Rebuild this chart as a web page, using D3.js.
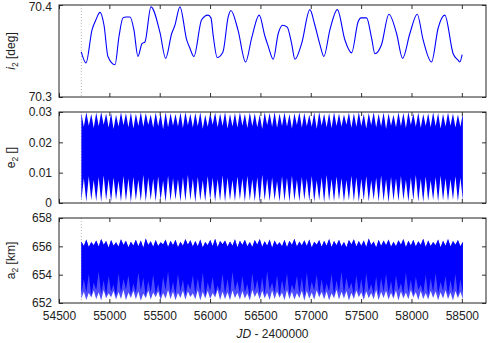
<!DOCTYPE html>
<html>
<head>
  <meta charset="utf-8">
  <title>i2, e2, a2 vs JD</title>
  <style>
    body { margin: 0; background: #fff; }
    text { font-family: "Liberation Sans", Arial, sans-serif; fill: #222; }
  </style>
</head>
<body>
  <script src="https://d3js.org/d3.v7.min.js"></script>
  <script type="text/javascript">

 // top panel: inclination i2 [deg] (JD - 2400000, value)
 var incT = [54721,54768,54828,54867,54907,54947,54986,55056,55096,55135,55165,55205,55244,55284,55324,55354,
             55413,55503,55559,55619,55651,55701,55768,55800,55840,55916,55979,56009,56032,56071,56128,56180,
             56207,56277,56353,56413,56488,56545,56578,56627,56677,56720,56766,56810,56843,56909,56991,57041,
             57091,57130,57190,57264,57339,57405,57471,57498,57554,57604,57637,57703,57776,57852,57912,57984,
             58057,58116,58199,58265,58331,58414,58463,58480,58503];
 var incV = [70.349,70.337,70.373,70.384,70.392,70.378,70.344,70.335,70.366,70.386,70.387,70.387,70.373,70.344,70.358,70.360,
             70.398,70.370,70.342,70.369,70.378,70.398,70.362,70.353,70.344,70.384,70.389,70.386,70.366,70.343,70.349,70.387,
             70.394,70.373,70.338,70.364,70.389,70.366,70.355,70.341,70.369,70.378,70.376,70.358,70.341,70.358,70.395,70.378,
             70.357,70.344,70.373,70.395,70.362,70.348,70.382,70.386,70.386,70.364,70.347,70.357,70.390,70.369,70.342,70.369,
             70.390,70.362,70.338,70.375,70.389,70.347,70.340,70.338,70.346];

 // middle + bottom panels: envelopes of the fast oscillation, sampled every half cycle
 var t0 = 54722, halfStep = 24.6;

 var ePeakHi = [0.0296,0.0299,0.0293,0.0298,0.0300,0.0295,0.0297,0.0291,0.0299,0.0296,
                0.0298,0.0294,0.0300,0.0297,0.0292,0.0298,0.0295,0.0299,0.0296,0.0293,
                0.0298,0.0300,0.0294,0.0297,0.0299,0.0291,0.0296,0.0298,0.0295,0.0300,
                0.0293,0.0297,0.0299,0.0294,0.0298,0.0296,0.0292,0.0299,0.0297,0.0300,
                0.0295,0.0298,0.0293,0.0296,0.0299,0.0297,0.0291,0.0298,0.0300,0.0294,
                0.0297,0.0299,0.0295,0.0292,0.0298,0.0296,0.0300,0.0293,0.0297,0.0299,
                0.0294,0.0298,0.0296,0.0291,0.0299,0.0297,0.0300,0.0295,0.0298,0.0293,
                0.0296,0.0299,0.0297,0.0294,0.0298,0.0295,0.0292,0.0296];
 var eGapHi  = [0.0251,0.0255,0.0247,0.0253,0.0258,0.0249,0.0244,0.0252,0.0256,0.0250,
                0.0246,0.0254,0.0251,0.0257,0.0248,0.0253,0.0243,0.0250,0.0255,0.0252,
                0.0247,0.0256,0.0249,0.0253,0.0245,0.0251,0.0258,0.0250,0.0254,0.0246,
                0.0252,0.0249,0.0255,0.0247,0.0253,0.0250,0.0244,0.0256,0.0251,0.0248,
                0.0254,0.0252,0.0246,0.0257,0.0249,0.0253,0.0251,0.0245,0.0255,0.0250,
                0.0247,0.0254,0.0252,0.0258,0.0248,0.0251,0.0253,0.0246,0.0256,0.0249,
                0.0252,0.0244,0.0255,0.0250,0.0253,0.0247,0.0257,0.0251,0.0248,0.0254,
                0.0250,0.0253,0.0246,0.0252,0.0255,0.0249,0.0251];
 var ePeakLo = [0.0008,0.0004,0.0010,0.0006,0.0003,0.0009,0.0005,0.0011,0.0004,0.0007,
                0.0002,0.0009,0.0006,0.0004,0.0010,0.0005,0.0008,0.0003,0.0007,0.0011,
                0.0004,0.0006,0.0009,0.0002,0.0008,0.0005,0.0010,0.0004,0.0007,0.0003,
                0.0009,0.0006,0.0011,0.0004,0.0008,0.0005,0.0002,0.0009,0.0006,0.0010,
                0.0004,0.0007,0.0003,0.0008,0.0005,0.0011,0.0006,0.0004,0.0009,0.0002,
                0.0007,0.0005,0.0010,0.0004,0.0008,0.0006,0.0003,0.0009,0.0005,0.0011,
                0.0004,0.0007,0.0002,0.0008,0.0006,0.0010,0.0004,0.0009,0.0005,0.0003,
                0.0007,0.0010,0.0004,0.0008,0.0006,0.0011,0.0005,0.0009];
 var eGapLo  = [0.0082,0.0088,0.0076,0.0085,0.0091,0.0079,0.0084,0.0073,0.0089,0.0081,
                0.0086,0.0077,0.0092,0.0083,0.0080,0.0087,0.0074,0.0090,0.0082,0.0078,
                0.0085,0.0093,0.0080,0.0086,0.0075,0.0088,0.0083,0.0079,0.0091,0.0084,
                0.0076,0.0087,0.0082,0.0089,0.0078,0.0085,0.0093,0.0080,0.0084,0.0072,
                0.0088,0.0083,0.0090,0.0077,0.0086,0.0081,0.0089,0.0075,0.0084,0.0092,
                0.0079,0.0087,0.0082,0.0076,0.0090,0.0085,0.0080,0.0088,0.0074,0.0083,
                0.0091,0.0078,0.0086,0.0081,0.0089,0.0077,0.0084,0.0092,0.0080,0.0087,
                0.0075,0.0085,0.0090,0.0082,0.0078,0.0088,0.0083];

 var aPeakHi = [656.35,656.48,656.30,656.42,656.52,656.38,656.45,656.28,656.50,656.40,
                656.33,656.47,656.41,656.55,656.36,656.44,656.29,656.49,656.39,656.46,
                656.32,656.51,656.43,656.37,656.48,656.30,656.45,656.53,656.38,656.42,
                656.34,656.50,656.40,656.47,656.31,656.44,656.52,656.36,656.48,656.41,
                656.29,656.46,656.39,656.54,656.35,656.43,656.49,656.33,656.45,656.40,
                656.52,656.37,656.47,656.30,656.44,656.50,656.38,656.42,656.55,656.34,
                656.46,656.41,656.49,656.32,656.43,656.51,656.39,656.47,656.36,656.53,
                656.42,656.30,656.48,656.40,656.52,656.37,656.45,656.33];
 var aGapHi  = [656.02,655.95,656.08,655.98,656.12,655.92,656.05,655.99,656.10,655.94,
                656.06,656.01,655.90,656.09,655.97,656.03,656.13,655.96,656.07,655.93,
                656.04,656.11,655.98,656.00,655.91,656.08,656.02,655.95,656.14,655.99,
                656.05,655.93,656.09,656.01,655.96,656.12,655.97,656.04,655.90,656.07,
                656.00,655.94,656.10,655.98,656.06,656.02,655.92,656.11,655.97,656.05,
                655.95,656.08,656.01,655.93,656.13,655.99,656.04,655.96,656.09,655.91,
                656.03,656.07,655.97,656.00,656.12,655.94,656.06,655.99,656.10,655.95,
                656.02,656.08,655.93,656.05,655.98,656.11,656.00];
 var aPeakLo = [652.30,652.22,652.38,652.26,652.18,652.34,652.41,652.24,652.29,652.20,
                652.36,652.27,652.16,652.33,652.25,652.40,652.21,652.31,652.28,652.19,
                652.35,652.23,652.43,652.26,652.17,652.32,652.29,652.38,652.22,652.27,
                652.20,652.36,652.24,652.31,652.18,652.42,652.26,652.33,652.21,652.29,
                652.37,652.19,652.28,652.25,652.35,652.16,652.30,652.23,652.39,652.27,
                652.20,652.34,652.24,652.31,652.18,652.28,652.41,652.22,652.33,652.26,
                652.19,652.36,652.25,652.30,652.17,652.32,652.27,652.38,652.21,652.29,
                652.24,652.35,652.20,652.31,652.26,652.18,652.34,652.28];
 var aGapLo  = [652.80,652.72,652.88,652.76,652.91,652.69,652.84,652.78,652.93,652.74,
                652.86,652.81,652.67,652.89,652.75,652.83,652.70,652.92,652.79,652.73,
                652.87,652.82,652.68,652.90,652.77,652.85,652.71,652.94,652.80,652.76,
                652.88,652.73,652.83,652.69,652.91,652.78,652.86,652.72,652.89,652.81,
                652.75,652.92,652.79,652.70,652.87,652.84,652.74,652.90,652.77,652.82,
                652.68,652.93,652.80,652.85,652.72,652.88,652.76,652.83,652.71,652.91,
                652.79,652.86,652.73,652.89,652.81,652.75,652.92,652.78,652.84,652.70,
                652.87,652.82,652.76,652.90,652.74,652.85,652.80];
 // lower edge of the dense (dark) part of the a2 band
 var aMidPeak = [652.60,652.75,652.50,652.90,652.65,652.55,652.80,652.45,652.70,652.95,
                 652.58,652.68,652.85,652.52,652.74,652.62,652.48,652.88,652.66,652.57,
                 652.79,652.53,652.92,652.64,652.71,652.49,652.83,652.59,652.76,652.61,
                 652.54,652.87,652.67,652.73,652.46,652.81,652.63,652.56,652.90,652.69,
                 652.51,652.77,652.60,652.84,652.65,652.47,652.72,652.89,652.58,652.66,
                 652.80,652.53,652.74,652.62,652.94,652.57,652.70,652.49,652.82,652.64,
                 652.55,652.78,652.68,652.50,652.86,652.61,652.73,652.59,652.91,652.67,
                 652.52,652.76,652.63,652.85,652.56,652.71,652.48,652.66];
 var aMidGap  = [653.70,654.05,653.45,654.20,653.60,653.90,653.30,654.10,653.70,653.95,
                 653.40,654.15,653.80,653.55,654.00,653.35,653.85,654.25,653.50,654.05,
                 653.65,653.40,653.95,653.75,654.15,653.45,653.85,653.25,654.05,653.70,
                 654.20,653.55,653.90,653.35,654.10,653.65,653.80,654.25,653.45,653.95,
                 653.60,654.10,653.30,653.90,653.80,654.15,653.50,654.00,653.70,653.40,
                 654.05,653.60,654.20,653.80,653.45,653.95,653.70,654.10,653.35,653.85,
                 653.75,654.05,653.55,653.95,653.40,654.15,653.65,653.85,653.30,654.00,
                 653.75,654.10,653.50,653.90,653.60,654.05,653.70];

 var xTicks = [54500,55000,55500,56000,56500,57000,57500,58000,58500];
 var iTicks = [70.3, 70.4];
 var eTicks = [0, 0.01, 0.02, 0.03];
 var aTicks = [652, 654, 656, 658];
 var startJD = 54722;

 // build the band table from the arrays
 var band = [];
 for (var i = 0; i < ePeakHi.length + eGapHi.length; i++) {
   var k = Math.floor(i / 2), pk = (i % 2 === 0);
   band.push({
     t: t0 + i * halfStep,
     eHi: pk ? ePeakHi[k] : eGapHi[k],
     eLo: pk ? ePeakLo[k] : eGapLo[k],
     aHi: pk ? aPeakHi[k] : aGapHi[k],
     aLo: pk ? aPeakLo[k] : aGapLo[k],
     aMid: pk ? aMidPeak[k] : aMidGap[k]
   });
 }
 var inc = incT.map(function(t, j){ return {t: t, v: incV[j]}; });

 var W = 491, H = 343, left = 59, right = 486;
 var svg = d3.select("body").append("svg").attr("width", W).attr("height", H);

 var x = d3.scaleLinear().domain([54500, 58740]).range([left, right]);

 var panels = [
   {top: 5,   bottom: 97,  domain: [70.3, 70.4], ticks: iTicks, fmt: d3.format(".1f"), sym: "i", unit: " [deg]", ital: true},
   {top: 112, bottom: 203, domain: [0, 0.03],    ticks: eTicks, fmt: function(d){ return d === 0 ? "0" : d3.format(".2f")(d); }, sym: "e", unit: " []", ital: false},
   {top: 218, bottom: 303, domain: [652, 658],   ticks: aTicks, fmt: d3.format("d"), sym: "a", unit: " [km]", ital: false}
 ];

 panels.forEach(function(p, n) {
   p.y = d3.scaleLinear().domain(p.domain).range([p.bottom, p.top]);
   var g = svg.append("g");

   svg.append("clipPath").attr("id", "clip" + n)
      .append("rect").attr("x", left).attr("y", p.top).attr("width", right - left).attr("height", p.bottom - p.top);

   // dotted marker at the start of the data
   g.append("line")
    .attr("x1", x(startJD)).attr("x2", x(startJD))
    .attr("y1", p.top).attr("y2", p.bottom)
    .attr("stroke", "#aaa").attr("stroke-width", 0.8).attr("stroke-dasharray", "1,2");

   var data = g.append("g").attr("clip-path", "url(#clip" + n + ")");
   if (n === 0) {
     data.append("path").datum(inc)
         .attr("fill", "none").attr("stroke", "#0000ff").attr("stroke-width", 1.1)
         .attr("d", d3.line().x(function(d){ return x(d.t); }).y(function(d){ return p.y(d.v); }).curve(d3.curveMonotoneX));
   } else if (n === 1) {
     data.append("path").datum(band)
         .attr("fill", "#0000ff")
         .attr("d", d3.area().x(function(d){ return x(d.t); })
                   .y0(function(d){ return p.y(d.eLo); }).y1(function(d){ return p.y(d.eHi); }));
   } else {
     data.append("path").datum(band)
         .attr("fill", "#4d4dff")
         .attr("d", d3.area().x(function(d){ return x(d.t); })
                   .y0(function(d){ return p.y(d.aLo); }).y1(function(d){ return p.y(d.aHi); }));
     data.append("path").datum(band)
         .attr("fill", "#0000ff")
         .attr("d", d3.area().x(function(d){ return x(d.t); })
                   .y0(function(d){ return p.y(d.aMid); }).y1(function(d){ return p.y(d.aHi); }));
   }

   // inward ticks on all four sides
   var yl = g.append("g").attr("transform", "translate(" + left + ",0)")
      .call(d3.axisLeft(p.y).tickValues(p.ticks).tickFormat(p.fmt).tickSize(-4).tickPadding(7));
   var yr = g.append("g").attr("transform", "translate(" + right + ",0)")
      .call(d3.axisRight(p.y).tickValues(p.ticks).tickFormat("").tickSize(-4));
   var xb = g.append("g").attr("transform", "translate(0," + p.bottom + ")")
      .call(d3.axisBottom(x).tickValues(xTicks).tickFormat(n === 2 ? d3.format("d") : "").tickSize(-4).tickPadding(8.5));
   var xt = g.append("g").attr("transform", "translate(0," + p.top + ")")
      .call(d3.axisTop(x).tickValues(xTicks).tickFormat("").tickSize(-4));
   [yl, yr, xb, xt].forEach(function(a){
     a.select(".domain").remove();
     a.selectAll(".tick line").attr("stroke", "#333");
     a.selectAll("text").attr("font-size", "12px").attr("fill", "#222").style("font-family", "Liberation Sans, Arial, sans-serif");
   });
   // keep the top label of the first panel inside the page
   if (n === 0) yl.selectAll(".tick text").filter(function(d){ return d === 70.4; }).attr("dy", "0.42em");

   g.append("rect").attr("x", left).attr("y", p.top)
    .attr("width", right - left).attr("height", p.bottom - p.top)
    .attr("fill", "none").attr("stroke", "#222").attr("stroke-width", 1);

   // y title
   var cy = (p.top + p.bottom) / 2;
   var tt = svg.append("text")
      .attr("transform", "translate(15," + cy + ") rotate(-90)")
      .attr("text-anchor", "middle").attr("font-size", "12px");
   tt.append("tspan").text(p.sym).attr("font-style", p.ital ? "italic" : "normal");
   tt.append("tspan").text("2").attr("font-size", "8.5px").attr("dy", 3);
   tt.append("tspan").text(p.unit).attr("dy", -3);
 });

 var xl = svg.append("text").attr("x", (left + right) / 2).attr("y", 338)
    .attr("text-anchor", "middle").attr("font-size", "12px");
 xl.append("tspan").text("JD").attr("font-style", "italic");
 xl.append("tspan").text(" - 2400000");

  </script>
</body>
</html>
